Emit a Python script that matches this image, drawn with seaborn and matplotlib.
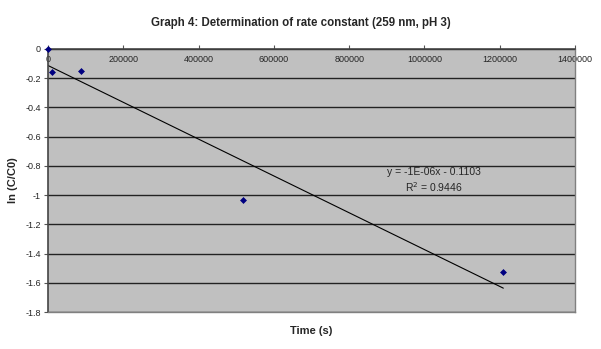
# ln(C/C0) vs time, first-order rate constant plot

import numpy as np
import pandas as pd
import seaborn as sns
import matplotlib.pyplot as plt

time_s = [0, 10800, 86400, 518400, 1209600]
ln_ratio = [0.0, -0.155, -0.148, -1.034, -1.527]

x_ticks = [0, 200000, 400000, 600000, 800000, 1000000, 1200000, 1400000]
x_labels = ['0', '200000', '400000', '600000', '800000', '1000000', '1200000', '1400000']
y_ticks = [0, -0.2, -0.4, -0.6, -0.8, -1.0, -1.2, -1.4, -1.6, -1.8]
y_labels = ['0', '-0.2', '-0.4', '-0.6', '-0.8', '-1', '-1.2', '-1.4', '-1.6', '-1.8']

df = pd.DataFrame({'t': time_s, 'y': ln_ratio})

# linear trendline like excel
slope, icept = np.polyfit(df['t'], df['y'], 1)
trend = pd.DataFrame({'t': [min(time_s), max(time_s)]})
trend['y'] = slope * trend['t'] + icept

sns.set_style('white')
plt.rcParams['font.family'] = ['Liberation Sans', 'DejaVu Sans']

fig = plt.figure(figsize=(6.01, 3.49), dpi=100)
ax = fig.add_axes([48/601, 1 - 312/349, (575-48)/601, (312-49)/349])
ax.set_facecolor('#c0c0c0')

sns.lineplot(data=trend, x='t', y='y', color='black', linewidth=0.8, ax=ax)
sns.scatterplot(data=df, x='t', y='y', marker='D', color='#000080', s=9,
                edgecolor='#000080', linewidth=0.5, ax=ax, zorder=5, clip_on=False)

ax.set_xlim(0, 1400000)
ax.set_ylim(-1.8, 0)
ax.set_yticks(y_ticks)
ax.set_yticklabels(y_labels, fontsize=6.5)
ax.set_xticks(x_ticks)
ax.set_xticklabels(x_labels, fontsize=6.5)
ax.tick_params(axis='x', top=True, bottom=False, labeltop=True, labelbottom=False,
               direction='out', length=3, width=0.8, color='#555555', pad=-14)
ax.tick_params(axis='y', left=True, direction='out', length=3, width=0.8,
               color='#555555', pad=2)
ax.yaxis.grid(True, color='#222222', linewidth=1.0)
ax.set_axisbelow(True)

for side in ['top', 'left']:
    ax.spines[side].set_color('#444444')
    ax.spines[side].set_linewidth(1.2)
for side in ['right', 'bottom']:
    ax.spines[side].set_color('#808080')
    ax.spines[side].set_linewidth(1.0)

ax.set_xlabel('Time (s)', fontsize=8, fontweight='bold', labelpad=10)
ax.set_ylabel('ln (C/C0)', fontsize=8, fontweight='bold')
ax.yaxis.set_label_coords(-30/527, 0.5)
fig.suptitle('Graph 4: Determination of rate constant (259 nm, pH 3)',
             fontsize=8.3, fontweight='bold', y=0.95)

ax.text(1025000, -0.845, 'y = -1E-06x - 0.1103', fontsize=7.5, ha='center', va='center')
ax.text(1025000, -0.945, 'R$^2$ = 0.9446', fontsize=7.5, ha='center', va='center')

fig.savefig('out.png', dpi=100)
